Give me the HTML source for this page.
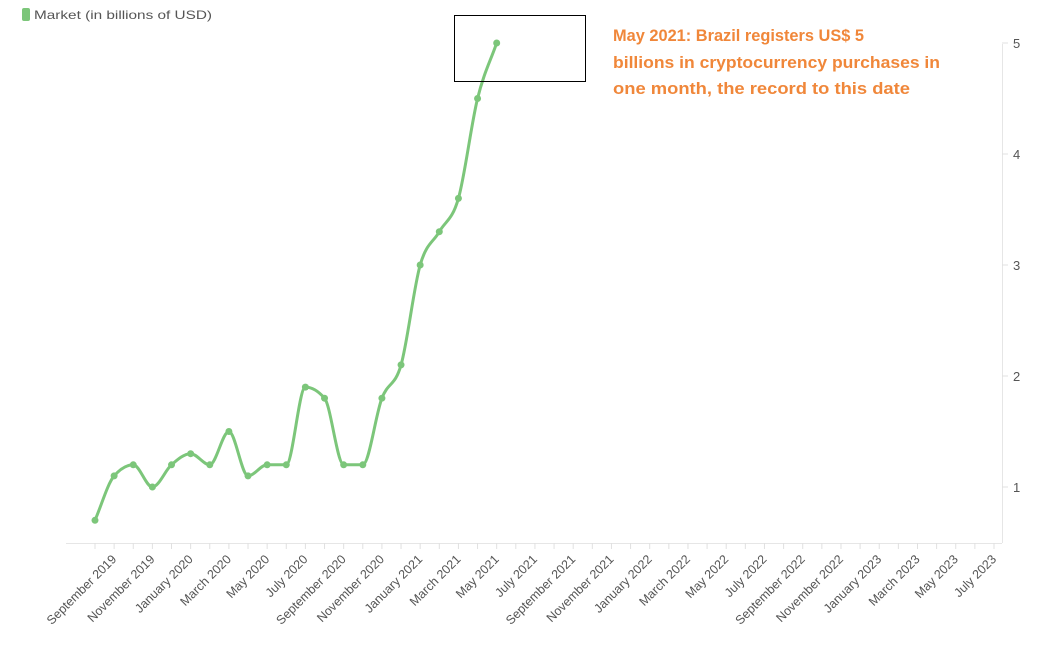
<!DOCTYPE html>
<html><head><meta charset="utf-8">
<style>
html,body{margin:0;padding:0;background:#fff;}
body{width:1041px;height:645px;overflow:hidden;font-family:"Liberation Sans",sans-serif;}
</style></head>
<body>
<svg id="chart" width="1041" height="645" xmlns="http://www.w3.org/2000/svg">
  <g>
    <rect x="22" y="8" width="8" height="13" rx="2" fill="#7cc67a"/>
    <text x="34" y="19" font-size="12" fill="#555" textLength="178" lengthAdjust="spacingAndGlyphs">Market (in billions of USD)</text>
  </g>
  <g id="xaxis"></g>
  <g id="yaxis"></g>
  <g id="series"></g>
  <rect x="454.5" y="15.5" width="131" height="66" fill="none" stroke="#000" stroke-width="1"/>
  <g font-size="17" font-weight="bold" fill="#f0873a">
    <text x="613" y="41" textLength="251" lengthAdjust="spacingAndGlyphs">May 2021: Brazil registers US$ 5</text>
    <text x="613" y="68" textLength="327" lengthAdjust="spacingAndGlyphs">billions in cryptocurrency purchases in</text>
    <text x="613" y="94" textLength="297" lengthAdjust="spacingAndGlyphs">one month, the record to this date</text>
  </g>
</svg>
<script>
const months = ["Aug 2019","Sep 2019","Oct 2019","Nov 2019","Dec 2019","Jan 2020","Feb 2020","Mar 2020","Apr 2020","May 2020","Jun 2020","Jul 2020","Aug 2020","Sep 2020","Oct 2020","Nov 2020","Dec 2020","Jan 2021","Feb 2021","Mar 2021","Apr 2021","May 2021"];
const values = [0.7,1.1,1.2,1.0,1.2,1.3,1.2,1.5,1.1,1.2,1.2,1.9,1.8,1.2,1.2,1.8,2.1,3.0,3.3,3.6,4.5,5.0];
const xTickLabels = ["September 2019","November 2019","January 2020","March 2020","May 2020","July 2020","September 2020","November 2020","January 2021","March 2021","May 2021","July 2021","September 2021","November 2021","January 2022","March 2022","May 2022","July 2022","September 2022","November 2022","January 2023","March 2023","May 2023","July 2023"];
const yTicks = [1,2,3,4,5];

const NS="http://www.w3.org/2000/svg";
const X0=95, STEP=(994-95)/47;
function x(i){return X0+i*STEP;}
function y(v){return 598-v*111;}
function mk(tag,attrs,parent){const e=document.createElementNS(NS,tag);for(const k in attrs)e.setAttribute(k,attrs[k]);parent.appendChild(e);return e;}

const xa=document.getElementById('xaxis');
const base=mk('line',{x1:66,x2:1002,y1:543.5,y2:543.5,stroke:'#e6e6e6','stroke-width':1},xa);


for(let i=0;i<48;i++){
  const t=mk('line',{x1:x(i),x2:x(i),y1:543,y2:549,stroke:'#e0e0e0','stroke-width':1},xa);
  
  
}
xTickLabels.forEach((lab,j)=>{
  const px=x(1+2*j)+3, py=560;
  const t=mk('text',{x:px,y:py,'font-size':12.5,fill:'#555','text-anchor':'end',transform:`rotate(-45 ${px} ${py})`},xa);
  t.textContent=lab;
  
  
});

const ya=document.getElementById('yaxis');
const yl=mk('line',{x1:1002.5,x2:1002.5,y1:44,y2:543,stroke:'#e6e6e6','stroke-width':1},ya);


yTicks.forEach(v=>{
  const t=mk('line',{x1:1002,x2:1008,y1:y(v),y2:y(v),stroke:'#e0e0e0'},ya);
  
  
  const l=mk('text',{x:1013,y:y(v)+5,'font-size':13,fill:'#555'},ya);
  l.textContent=v;
  
  
});

const pts=values.map((v,i)=>[x(i),y(v)]);
function monotone(p){
  const n=p.length, d=[], m=[];
  for(let i=0;i<n-1;i++)d.push((p[i+1][1]-p[i][1])/(p[i+1][0]-p[i][0]));
  m[0]=d[0];m[n-1]=d[n-2];
  for(let i=1;i<n-1;i++){
    if(d[i-1]*d[i]<=0)m[i]=0;
    else{const h0=p[i][0]-p[i-1][0],h1=p[i+1][0]-p[i][0];
      const s=(d[i-1]*h1+d[i]*h0)/(h0+h1);
      m[i]=(Math.sign(d[i-1])+Math.sign(d[i]))*Math.min(Math.abs(d[i-1]),Math.abs(d[i]),0.5*Math.abs(s));}
  }
  let s=`M${p[0][0]},${p[0][1]}`;
  for(let i=0;i<n-1;i++){const h=(p[i+1][0]-p[i][0])/3;
    s+=`C${p[i][0]+h},${p[i][1]+m[i]*h} ${p[i+1][0]-h},${p[i+1][1]-m[i+1]*h} ${p[i+1][0]},${p[i+1][1]}`;}
  return s;
}
const sg=document.getElementById('series');
const line=mk('path',{d:monotone(pts),fill:'none',stroke:'#7cc67a','stroke-width':3,'stroke-linejoin':'round'},sg);


pts.forEach((p,i)=>{
  const c=mk('circle',{cx:p[0],cy:p[1],r:3.5,fill:'#7cc67a'},sg);
  
  
});
</script>
</body></html>
